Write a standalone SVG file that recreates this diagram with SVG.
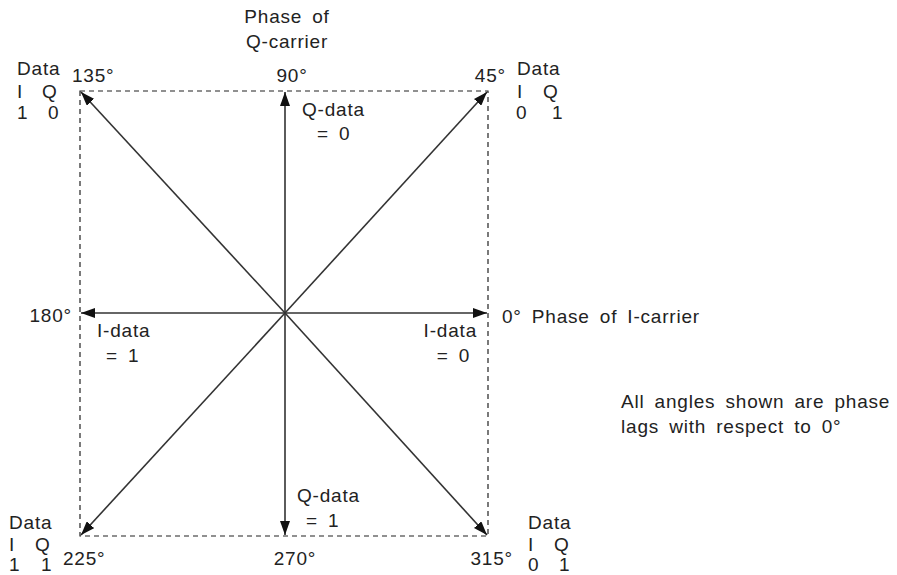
<svg xmlns="http://www.w3.org/2000/svg" width="897" height="575" viewBox="0 0 897 575">
<style>
text{font-family:"Liberation Sans",Arial,sans-serif;font-size:19px;fill:#222;letter-spacing:0.8px;word-spacing:4px}
.m{text-anchor:middle}
.e{text-anchor:end}
.box{fill:none;stroke:#222;stroke-width:1.2;stroke-dasharray:5 4}
.ar{stroke:#333;stroke-width:1.6;fill:none;marker-end:url(#ah)}
</style>
<defs>
<marker id="ah" viewBox="0 0 14 10" refX="14" refY="5" markerWidth="14" markerHeight="10" markerUnits="userSpaceOnUse" orient="auto">
<path d="M0,0 L14,5 L0,10 Z" fill="#111"/>
</marker>
</defs>
<g id="frame"><rect class="box" x="80" y="91" width="408" height="445"/></g>
<g id="connectors">
<line class="ar" x1="285" y1="313" x2="285" y2="92"/>
<line class="ar" x1="285" y1="313" x2="285" y2="535"/>
<line class="ar" x1="285" y1="313" x2="81" y2="313"/>
<line class="ar" x1="285" y1="313" x2="487" y2="313"/>
<line class="ar" x1="285" y1="313" x2="81" y2="92"/>
<line class="ar" x1="285" y1="313" x2="487" y2="92"/>
<line class="ar" x1="285" y1="313" x2="81" y2="535"/>
<line class="ar" x1="285" y1="313" x2="487" y2="535"/>
</g>
<g id="q-carrier"><text class="m" x="287" y="23">Phase of</text><text class="m" x="287" y="48">Q-carrier</text></g>
<g id="p90"><text class="m" x="292" y="82">90°</text><text x="302" y="116">Q-data</text><text x="317" y="140">= 0</text></g>
<g id="p135"><text x="17" y="75">Data</text><text x="17" y="98">I</text><text x="42" y="98">Q</text><text x="17" y="119">1</text><text x="48" y="119">0</text><text x="72" y="82">135°</text></g>
<g id="p45"><text class="e" x="506" y="82">45°</text><text x="517" y="75">Data</text><text x="517" y="98">I</text><text x="543" y="98">Q</text><text x="516" y="119">0</text><text x="552" y="119">1</text></g>
<g id="p180"><text class="e" x="72" y="322">180°</text><text x="97" y="337">I-data</text><text x="106" y="362">= 1</text></g>
<g id="p0"><text class="e" x="477" y="337">I-data</text><text class="e" x="470" y="362">= 0</text><text x="502" y="323">0° Phase of I-carrier</text></g>
<g id="note"><text x="621" y="408">All angles shown are phase</text><text x="621" y="433">lags with respect to 0°</text></g>
<g id="p270"><text x="297" y="502">Q-data</text><text x="306" y="527">= 1</text><text class="m" x="295" y="565">270°</text></g>
<g id="p225"><text x="9" y="529">Data</text><text x="9" y="551">I</text><text x="35" y="551">Q</text><text x="9" y="571">1</text><text x="41" y="571">1</text><text x="63" y="565">225°</text></g>
<g id="p315"><text class="e" x="513" y="565">315°</text><text x="528" y="529">Data</text><text x="528" y="551">I</text><text x="554" y="551">Q</text><text x="528" y="571">0</text><text x="559" y="571">1</text></g>
</svg>
